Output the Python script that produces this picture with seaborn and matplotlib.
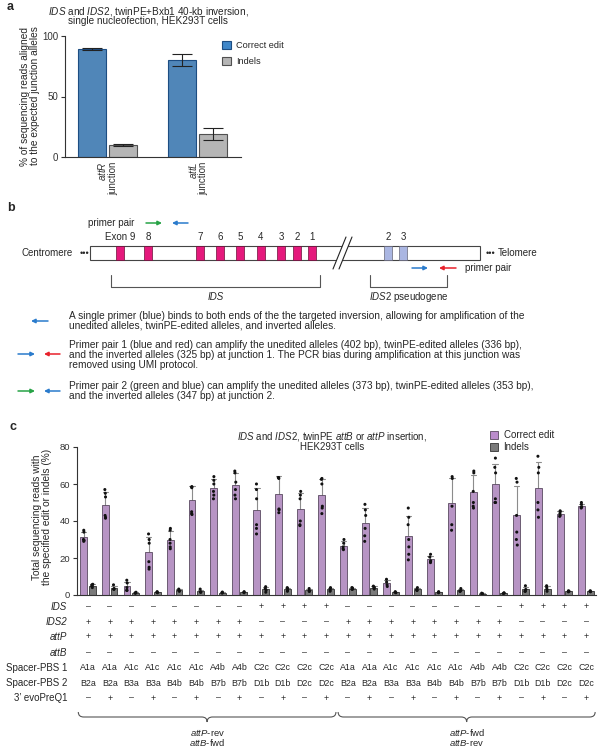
import numpy as np
import pandas as pd
import matplotlib
matplotlib.use("Agg")
import matplotlib.pyplot as plt
import matplotlib.patches as mpatches
import matplotlib.transforms as mtransforms
from matplotlib.path import Path
import seaborn as sns

sns.set_theme(style="ticks")
plt.rcParams['font.family'] = ['Liberation Sans', 'DejaVu Sans']
plt.rcParams['mathtext.fontset'] = 'custom'
plt.rcParams['mathtext.rm'] = 'Liberation Sans'
plt.rcParams['mathtext.it'] = 'Liberation Sans:italic'
plt.rcParams['mathtext.bf'] = 'Liberation Sans:bold'
plt.rcParams['axes.edgecolor'] = '#333333'
plt.rcParams['xtick.color'] = '#333333'
plt.rcParams['ytick.color'] = '#333333'

# ---------------- data: panel a ----------------
a_junctions = ["attR", "attL"]
a_series = ["Correct edit", "Indels"]
a_correct = [89.2, 80.3]
a_correct_sd = [0.9, 5.0]
a_indels = [10.0, 19.3]
a_indels_sd = [0.8, 5.0]

# ---------------- data: panel c ----------------
c_series = ["Correct edit", "Indels"]
c_correct_reps = [
    [35, 34, 30, 29, 29.5],
    [57, 55, 53, 43, 42, 41.5],
    [8, 6.5, 4, 2.5, 2.5],
    [33, 30, 28, 18, 15, 14],
    [36, 35, 30, 26, 25, 28],
    [58.5, 58, 58.5, 45, 44, 43.5],
    [64, 62, 60, 56, 54, 52],
    [67, 66, 61, 54, 52, 57],
    [60, 57, 52, 38, 36, 33],
    [63.5, 63, 63.5, 46, 46.5, 44.5],
    [56, 54, 52, 40, 38, 37.5],
    [63, 62.5, 60, 48, 47, 44],
    [30, 28, 26, 24.5, 25],
    [49, 46, 43, 36, 32, 29],
    [8.5, 7, 5.5, 4.6],
    [47, 42, 38, 30, 26, 22, 19],
    [22, 20.5, 18, 17.5, 18.5],
    [64, 63, 48, 38, 35],
    [67, 66, 56, 48, 50, 47],
    [74, 69, 66, 52, 50, 50],
    [63, 61, 43, 34, 30, 27],
    [75, 69, 66, 50, 46, 42],
    [45.5, 45, 44, 43, 42.5],
    [50, 49, 47.5, 47.5, 47],
]
c_indel_reps = [
    [5.8, 5.5, 5.0, 4.7, 4.0],
    [5.5, 3.5, 3.2, 3.0],
    [1.5, 1.2, 0.9],
    [1.8, 1.5, 1.2],
    [3.2, 2.5, 2.0, 2.3],
    [3.2, 1.8, 1.5, 1.5],
    [1.6, 1.3, 1.0],
    [1.8, 1.5, 1.2],
    [4.5, 3.5, 2.5, 1.5],
    [4.0, 3.5, 2.5, 2.0],
    [3.5, 2.5, 2.0, 2.0],
    [4.0, 3.5, 2.5, 2.0],
    [4.0, 3.8, 3.2, 3.0],
    [4.8, 4.2, 3.8, 3.2],
    [1.8, 1.5, 1.2],
    [4.0, 3.0, 2.5, 2.5],
    [1.8, 1.5, 1.2],
    [3.5, 2.5, 2.0, 2.0],
    [1.0, 0.8, 0.6],
    [1.2, 1.0, 0.8],
    [5.0, 3.0, 2.0, 2.0],
    [5.0, 4.0, 3.0, 2.0],
    [2.3, 2.0, 1.7],
    [2.3, 2.0, 1.7],
]
c_row_labels = ["IDS", "IDS2", "attP", "attB", "Spacer-PBS 1", "Spacer-PBS 2", "3\u2019 evoPreQ1"]
c_ids  = ["–","–","–","–","–","–","–","–","+","+","+","+","–","–","–","–","–","–","–","–","+","+","+","+"]
c_ids2 = ["+","+","+","+","+","+","+","+","–","–","–","–","+","+","+","+","+","+","+","+","–","–","–","–"]
c_attp = ["+","+","+","+","+","+","+","+","+","+","+","+","+","+","+","+","+","+","+","+","+","+","+","+"]
c_attb = ["–","–","–","–","–","–","–","–","–","–","–","–","–","–","–","–","–","–","–","–","–","–","–","–"]
c_sp1 = ["A1a","A1a","A1c","A1c","A1c","A1c","A4b","A4b","C2c","C2c","C2c","C2c",
         "A1a","A1a","A1c","A1c","A1c","A1c","A4b","A4b","C2c","C2c","C2c","C2c"]
c_sp2 = ["B2a","B2a","B3a","B3a","B4b","B4b","B7b","B7b","D1b","D1b","D2c","D2c",
         "B2a","B2a","B3a","B3a","B4b","B4b","B7b","B7b","D1b","D1b","D2c","D2c"]
c_evo = ["–","+","–","+","–","+","–","+","–","+","–","+","–","+","–","+","–","+","–","+","–","+","–","+"]
c_groups = [("attP", "rev", "attB", "fwd"), ("attP", "fwd", "attB", "rev")]

# panel b
ids_exon_labels = ["Exon 9", "8", "7", "6", "5", "4", "3", "2", "1"]
ids2_exon_labels = ["2", "3"]

# ---------------- colours ----------------
blue, blue_edge = "#3f87c9", "#1d4d82"
lgrey, lgrey_edge = "#b5b5b5", "#505050"
purple, purple_edge = "#bb8ccc", "#5a4a60"
dgrey, dgrey_edge = "#7a7a7a", "#333333"
magenta = "#e5197c"
lav = "#aab6e2"
c_green, c_blue, c_red = "#27a346", "#2a7bcc", "#e8212b"

FS = 7
FSB = 7.3

fig = plt.figure(figsize=(6.01, 7.5), dpi=100)
W, H = 601, 750
ov = fig.add_axes([0, 0, 1, 1])
ov.set_xlim(0, W)
ov.set_ylim(H, 0)
ov.axis('off')
ov.patch.set_alpha(0)

# ================= panel a =================
axa = fig.add_axes([65 / W, 1 - 157 / H, (241 - 65) / W, (157 - 36) / H])
axa.patch.set_alpha(0)
dfa = pd.DataFrame({
    "junction": a_junctions * 2,
    "series": [a_series[0]] * 2 + [a_series[1]] * 2,
    "value": a_correct + a_indels,
})
sns.barplot(data=dfa, x="junction", y="value", hue="series", order=a_junctions,
            hue_order=a_series, palette=[blue, lgrey], errorbar=None,
            width=0.69, gap=0.1, linewidth=0.8, ax=axa, legend=False)
for cont, sds, ec in zip(axa.containers, [a_correct_sd, a_indels_sd], [blue_edge, lgrey_edge]):
    for bar, sd in zip(cont, sds):
        bar.set_edgecolor(ec)
        cx = bar.get_x() + bar.get_width() / 2
        axa.errorbar(cx, bar.get_height(), yerr=sd, color="#222222", lw=0.8,
                     capsize=7, capthick=0.8, zorder=3)
axa.set_xlim(-0.47, 1.48)
axa.set_ylim(0, 100)
axa.set_yticks([0, 50, 100])
axa.tick_params(axis='y', labelsize=FS, length=3, width=0.8, pad=2)
axa.tick_params(axis='x', length=0, pad=3)
axa.set_xticks([0, 1])
axa.set_xticklabels([r"$\mathit{attR}$" + "\njunction", r"$\mathit{attL}$" + "\njunction"])
for lab in axa.get_xticklabels():
    lab.set_rotation(90)
    lab.set_multialignment('right')
    lab.set_va('top')
    lab.set_ha('center')
    lab.set_fontsize(FS)
    lab.set_linespacing(1.0)
axa.set_xlabel("")
axa.set_ylabel("")
sns.despine(ax=axa)
for s in axa.spines.values():
    s.set_linewidth(0.8)
axa.legend(handles=[mpatches.Patch(facecolor=blue, edgecolor=blue_edge, lw=0.8, label="Correct edit"),
                    mpatches.Patch(facecolor=lgrey, edgecolor=lgrey_edge, lw=0.8, label="Indels")],
           loc='upper left', bbox_to_anchor=(222 / W, 1 - 41 / H), bbox_transform=fig.transFigure,
           frameon=False, fontsize=6.6, handlelength=1.0, handleheight=1.0, handletextpad=0.5,
           labelspacing=0.7, borderpad=0, borderaxespad=0)

ov.text(148, 11, r"$\mathit{IDS}$ and $\mathit{IDS2}$, twinPE+Bxb1 40-kb inversion,",
        ha='center', va='center', fontsize=7.2)
ov.text(148, 21.5, "single nucleofection, HEK293T cells", ha='center', va='center', fontsize=7.2)
ov.text(30, 96, "% of sequencing reads aligned\nto the expected junction alleles", rotation=90,
        ha='center', va='center', multialignment='center', fontsize=FSB, linespacing=1.0)

# ================= panel b =================
def arrow(x0, x1, y, color):
    ov.annotate("", xy=(x1, y), xytext=(x0, y),
                arrowprops=dict(arrowstyle='-|>', color=color, lw=1.1, mutation_scale=6,
                                shrinkA=0, shrinkB=0))

ov.text(88, 223, "primer pair", ha='left', va='center', fontsize=FS)
arrow(146, 162, 223, c_green)
arrow(188, 172, 223, c_blue)

RT, RH = 246, 14
ids_exon_x = [120, 148, 200, 220, 240, 261, 281, 297, 312]
ids2_exon_x = [388, 403]
ov.add_patch(mpatches.Rectangle((90, RT), 390, RH, facecolor='white', edgecolor='#444444', lw=0.8, zorder=2))
for x, lab in zip(ids_exon_x, ids_exon_labels):
    ov.add_patch(mpatches.Rectangle((x - 4, RT), 8, RH, facecolor=magenta, edgecolor='#6a1038', lw=0.5, zorder=3))
    ov.text(x, 237.5, lab, ha='center', va='center', fontsize=FS)
for x, lab in zip(ids2_exon_x, ids2_exon_labels):
    ov.add_patch(mpatches.Rectangle((x - 4, RT), 8, RH, facecolor=lav, edgecolor='#666677', lw=0.5, zorder=3))
    ov.text(x, 237.5, lab, ha='center', va='center', fontsize=FS)
# break marks
ov.add_patch(mpatches.Polygon([(333, 269), (346, 237), (352, 237), (339, 269)], closed=True,
                              facecolor='white', edgecolor='none', zorder=4))
ov.plot([333, 346], [269, 237], color='#222222', lw=0.8, zorder=5)
ov.plot([339, 352], [269, 237], color='#222222', lw=0.8, zorder=5)

ov.text(73, 253, "Centromere", ha='right', va='center', fontsize=FS)
ov.text(84, 253, "•••", ha='center', va='center', fontsize=6.5)
ov.text(490, 253, "•••", ha='center', va='center', fontsize=6.5)
ov.text(498, 253, "Telomere", ha='left', va='center', fontsize=FS)

arrow(412, 428, 268, c_blue)
arrow(456, 439, 268, c_red)
ov.text(465, 268, "primer pair", ha='left', va='center', fontsize=FS)

for x0, x1 in [(111, 320), (370, 447)]:
    ov.plot([x0, x0, x1, x1], [275, 287, 287, 275], color='#555555', lw=0.8)
ov.text(216, 297, "IDS", ha='center', va='center', fontsize=FS, style='italic')
ov.text(409, 297, r"$\mathit{IDS2}$ pseudogene", ha='center', va='center', fontsize=FS)

arrow(48, 31, 321, c_blue)
arrow(18, 35, 354, c_blue)
arrow(60, 44, 354, c_red)
arrow(18, 35, 391, c_green)
arrow(60, 44, 391, c_blue)

body = [
    (316, "A single primer (blue) binds to both ends of the the targeted inversion, allowing for amplification of the"),
    (325.5, "unedited alleles, twinPE-edited alleles, and inverted alleles."),
    (345, "Primer pair 1 (blue and red) can amplify the unedited alleles (402 bp), twinPE-edited alleles (336 bp),"),
    (355, "and the inverted alleles (325 bp) at junction 1. The PCR bias during amplification at this junction was"),
    (365, "removed using UMI protocol."),
    (386, "Primer pair 2 (green and blue) can amplify the unedited alleles (373 bp), twinPE-edited alleles (353 bp),"),
    (396, "and the inverted alleles (347 bp) at junction 2."),
]
for y, t in body:
    ov.text(69, y, t, ha='left', va='center', fontsize=FSB)

# ================= panel c =================
axc = fig.add_axes([77 / W, 1 - 595 / H, (596 - 77) / W, (595 - 447) / H])
axc.patch.set_alpha(0)
rows = []
for i in range(len(c_correct_reps)):
    for v in c_correct_reps[i]:
        rows.append((i, c_series[0], v))
    for v in c_indel_reps[i]:
        rows.append((i, c_series[1], v))
dfc = pd.DataFrame(rows, columns=["group", "series", "value"])
order = list(range(len(c_correct_reps)))
sns.barplot(data=dfc, x="group", y="value", hue="series", order=order, hue_order=c_series,
            palette=[purple, dgrey], errorbar="sd", capsize=0.5,
            err_kws={"color": "#8c8c8c", "linewidth": 0.8, "zorder": 0.9},
            width=0.8, gap=0.2, linewidth=0.6, ax=axc, legend=False)
for cont, ec in zip(axc.containers, [purple_edge, dgrey_edge]):
    for bar in cont:
        bar.set_edgecolor(ec)
np.random.seed(3)
sns.stripplot(data=dfc, x="group", y="value", hue="series", order=order, hue_order=c_series,
              dodge=True, jitter=0.05, palette=["#111111", "#111111"], size=2.2, linewidth=0,
              ax=axc, legend=False, zorder=3)
axc.set_xlim(-0.51, 23.46)
axc.set_ylim(0, 80)
axc.set_yticks([0, 20, 40, 60, 80])
axc.tick_params(axis='y', labelsize=6.8, length=3, width=0.8, pad=2)
axc.tick_params(axis='x', length=0, labelbottom=False)
axc.set_xlabel("")
axc.set_ylabel("")
sns.despine(ax=axc)
for s in axc.spines.values():
    s.set_linewidth(0.8)
axc.legend(handles=[mpatches.Patch(facecolor=purple, edgecolor=purple_edge, lw=0.6, label="Correct edit"),
                    mpatches.Patch(facecolor=dgrey, edgecolor=dgrey_edge, lw=0.6, label="Indels")],
           loc='upper left', bbox_to_anchor=(490 / W, 1 - 430.5 / H), bbox_transform=fig.transFigure,
           frameon=False, fontsize=FS, handlelength=0.8, handleheight=0.8, handletextpad=0.6,
           labelspacing=0.2, borderpad=0, borderaxespad=0)

ov.text(332, 436.5, r"$\mathit{IDS}$ and $\mathit{IDS2}$, twinPE $\mathit{attB}$ or $\mathit{attP}$ insertion,",
        ha='center', va='center', fontsize=FS)
ov.text(332, 446.5, "HEK293T cells", ha='center', va='center', fontsize=FS)
ov.text(42.5, 517, "Total sequencing reads with\nthe specified edit or indels (%)", rotation=90,
        ha='center', va='center', multialignment='center', fontsize=FSB, linespacing=1.0)

blend = mtransforms.blended_transform_factory(axc.transData, ov.transData)
row_y = [607, 622, 637, 653, 668, 683, 698]
row_vals = [c_ids, c_ids2, c_attp, c_attb, c_sp1, c_sp2, c_evo]
for y, lab, vals in zip(row_y, c_row_labels, row_vals):
    italic = lab in ("IDS", "IDS2", "attP", "attB")
    ov.text(67, y, lab, ha='right', va='center', fontsize=FS, style='italic' if italic else 'normal')
    for i, v in enumerate(vals):
        ov.text(i, y, v, transform=blend, ha='center', va='center', fontsize=6.4)

def brace(x0, x1, y0, r=0.25, h=10):
    xm = (x0 + x1) / 2
    ym = y0 + h / 2
    yt = y0 + h
    verts = [(x0, y0), (x0, ym), (x0 + r, ym), (xm - r, ym), (xm, ym), (xm, yt),
             (xm, ym), (xm + r, ym), (x1 - r, ym), (x1, ym), (x1, y0)]
    codes = [Path.MOVETO, Path.CURVE3, Path.CURVE3, Path.LINETO, Path.CURVE3, Path.CURVE3,
             Path.CURVE3, Path.CURVE3, Path.LINETO, Path.CURVE3, Path.CURVE3]
    ov.add_patch(mpatches.PathPatch(Path(verts, codes), transform=blend, fill=False,
                                    edgecolor='#555555', lw=0.8))
    return xm

mids = [brace(-0.45, 11.45, 712), brace(11.55, 23.42, 712)]
for xm, (p, pd_, b, bd) in zip(mids, c_groups):
    ov.text(xm, 733, r"$\mathit{" + p + "}$-" + pd_, transform=blend, ha='center', va='center', fontsize=6.8)
    ov.text(xm, 742.5, r"$\mathit{" + b + "}$-" + bd, transform=blend, ha='center', va='center', fontsize=6.8)

# panel letters
ov.text(10, 7, "a", ha='center', va='center', fontsize=9, fontweight='bold')
ov.text(11, 208, "b", ha='center', va='center', fontsize=9, fontweight='bold')
ov.text(13, 427, "c", ha='center', va='center', fontsize=9, fontweight='bold')

fig.savefig("out.png", dpi=100)
